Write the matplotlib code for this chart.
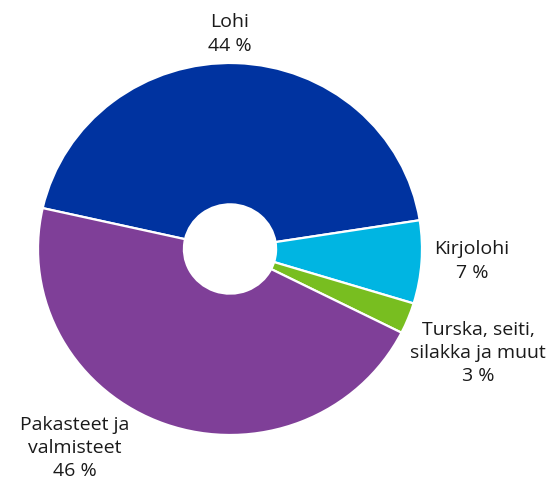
import matplotlib

matplotlib.use("Agg")
import matplotlib.pyplot as plt

# shares (per cent)
labels = ["Lohi", "Kirjolohi", "Turska, seiti,\nsilakka ja muut", "Pakasteet ja\nvalmisteet"]
shares = [44.0, 7.2, 2.7, 46.1]
shown = ["44 %", "7 %", "3 %", "46 %"]
colors = ["#0033A0", "#00B5E2", "#78BE20", "#7F3F98"]

plt.rcParams["font.family"] = ["Open Sans", "DejaVu Sans"]

W, H = 559, 486
fig = plt.figure(figsize=(W / 100, H / 100), dpi=100)

# pie centre at (230, 249) px from top-left, radius ~192 x 186 px
cx, cy, rx, ry = 230, 249, 192, 186
ax = fig.add_axes([(cx - rx) / W, (H - cy - ry) / H, 2 * rx / W, 2 * ry / H])

ax.pie(
    shares,
    colors=colors,
    startangle=167.3,
    counterclock=False,
    radius=1.0,
    wedgeprops=dict(width=0.76, edgecolor="white", linewidth=1.6),
)
ax.set_aspect("auto")
ax.set_xlim(-1, 1)
ax.set_ylim(-1, 1)
ax.axis("off")

# label block centres in pixels (x, y from top)
label_pos = [(230, 34), (472, 261), (478, 353), (75, 448)]
for (lx, ly), name, pct in zip(label_pos, labels, shown):
    fig.text(
        lx / W,
        1 - ly / H,
        f"{name}\n{pct}",
        ha="center",
        va="center",
        multialignment="center",
        fontsize=14,
        linespacing=1.38,
        color="#1a1a1a",
    )

fig.savefig("out.png", dpi=100)
